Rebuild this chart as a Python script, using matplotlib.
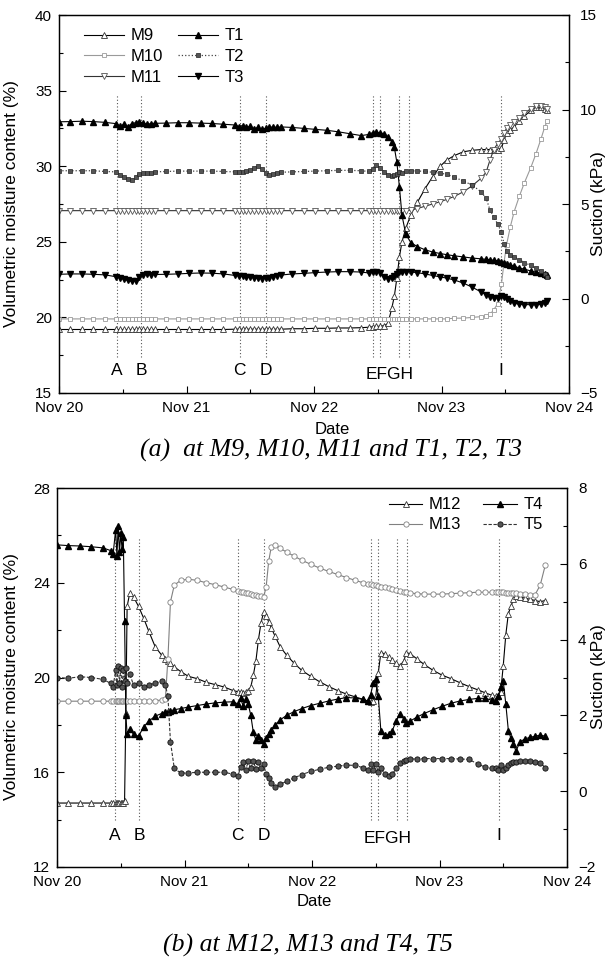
import matplotlib
matplotlib.use('Agg')
import matplotlib.pyplot as plt
from matplotlib.ticker import MultipleLocator

plt.rcParams['font.family'] = ['Liberation Sans', 'DejaVu Sans']
plt.rcParams['font.size'] = 11

# time in days after Nov 20 00:00
day_ticks = [0, 1, 2, 3, 4]
day_labels = ['Nov 20', 'Nov 21', 'Nov 22', 'Nov 23', 'Nov 24']

# event lines A..I
events = ['A', 'B', 'C', 'D', 'E', 'F', 'G', 'H', 'I']
event_days = [0.455, 0.645, 1.418, 1.623, 2.46, 2.515, 2.668, 2.742, 3.465]

# ---------------- panel (a) ----------------
t_a = [0.00, 0.09, 0.18, 0.27, 0.36, 0.45, 0.48, 0.51, 0.54, 0.57,
       0.60, 0.63, 0.66, 0.69, 0.72, 0.75, 0.84, 0.93, 1.02, 1.11,
       1.20, 1.29, 1.38, 1.41, 1.44, 1.47, 1.50, 1.53, 1.56, 1.59,
       1.62, 1.65, 1.68, 1.71, 1.74, 1.83, 1.92, 2.01, 2.10, 2.19,
       2.28, 2.37, 2.43, 2.46, 2.49, 2.52, 2.55, 2.58, 2.61, 2.63,
       2.65, 2.67, 2.69, 2.72, 2.76, 2.81, 2.87, 2.93, 2.99, 3.04,
       3.10, 3.17, 3.24, 3.31, 3.35, 3.38, 3.41, 3.44, 3.47, 3.49,
       3.51, 3.54, 3.57, 3.61, 3.65, 3.70, 3.74, 3.78, 3.81, 3.83]

m9 = ([19.2] * 20 +
      [19.2, 19.2, 19.22, 19.22, 19.22, 19.22, 19.22, 19.22, 19.22, 19.22] +
      [19.22, 19.22, 19.22, 19.22, 19.22, 19.25, 19.25, 19.28, 19.28, 19.3] +
      [19.3, 19.32, 19.35, 19.38, 19.4, 19.42, 19.45, 19.6, 20.6, 21.4] +
      [22.6, 24.0, 25.0, 25.9, 26.8, 27.6, 28.5, 29.3, 30.0, 30.4] +
      [30.7, 30.95, 31.05, 31.1, 31.1, 31.1, 31.1, 31.1, 31.2, 31.7] +
      [32.2, 32.4, 32.6, 33.0, 33.3, 33.7, 33.9, 33.9, 33.8, 33.7])

m10 = ([19.9] * 60 +
       [19.95, 19.95, 20.0, 20.05, 20.1, 20.2, 20.5, 20.9, 22.2, 23.6] +
       [24.8, 26.0, 27.0, 28.0, 28.9, 29.9, 30.8, 31.8, 32.6, 33.0])

m11 = ([27.06] * 50 +
       [27.06, 27.06, 27.06, 27.06, 27.1, 27.2, 27.35, 27.5, 27.65, 27.8] +
       [28.0, 28.3, 28.7, 29.2, 29.6, 30.4, 31.1, 31.5, 31.8, 32.2] +
       [32.5, 32.7, 32.9, 33.2, 33.5, 33.8, 34.0, 34.0, 33.9, 33.8])

t1 = ([9.35, 9.36, 9.38, 9.36, 9.32, 9.25, 9.12, 9.22, 9.1, 9.25] +
      [9.3, 9.35, 9.28, 9.22, 9.25, 9.27, 9.28, 9.3, 9.3, 9.28] +
      [9.26, 9.22, 9.18, 9.1, 9.15, 9.05, 9.12, 8.98, 9.05, 8.95] +
      [9.0, 9.05, 9.08, 9.05, 9.08, 9.05, 9.0, 8.95, 8.9, 8.82] +
      [8.72, 8.62, 8.68, 8.78, 8.8, 8.76, 8.72, 8.55, 8.3, 8.0] +
      [7.2, 5.9, 4.4, 3.4, 2.95, 2.75, 2.58, 2.46, 2.38, 2.32] +
      [2.26, 2.2, 2.14, 2.1, 2.07, 2.05, 2.02, 2.0, 1.95, 1.9] +
      [1.85, 1.78, 1.7, 1.62, 1.55, 1.46, 1.4, 1.33, 1.27, 1.22])

t2 = ([6.76, 6.76, 6.76, 6.76, 6.72, 6.7, 6.55, 6.42, 6.3, 6.25] +
      [6.45, 6.6, 6.62, 6.65, 6.65, 6.7, 6.72, 6.74, 6.74, 6.74] +
      [6.74, 6.72, 6.7, 6.68, 6.7, 6.75, 6.8, 6.9, 7.0, 6.85] +
      [6.65, 6.55, 6.6, 6.65, 6.68, 6.7, 6.72, 6.74, 6.76, 6.78] +
      [6.78, 6.76, 6.72, 6.85, 7.05, 6.9, 6.7, 6.55, 6.5, 6.55] +
      [6.6, 6.7, 6.65, 6.72, 6.75, 6.75, 6.72, 6.68, 6.62, 6.58] +
      [6.42, 6.22, 6.0, 5.65, 5.3, 4.7, 4.3, 3.95, 3.5, 2.9] +
      [2.5, 2.3, 2.2, 2.05, 1.9, 1.75, 1.6, 1.45, 1.3, 1.15])

t3 = ([1.28, 1.3, 1.3, 1.28, 1.25, 1.15, 1.08, 1.02, 0.96, 0.9] +
      [0.95, 1.15, 1.25, 1.27, 1.25, 1.27, 1.28, 1.3, 1.33, 1.35] +
      [1.34, 1.3, 1.22, 1.2, 1.18, 1.15, 1.12, 1.1, 1.07, 1.05] +
      [1.07, 1.1, 1.15, 1.2, 1.24, 1.3, 1.33, 1.37, 1.4, 1.42] +
      [1.42, 1.4, 1.35, 1.38, 1.42, 1.35, 1.15, 1.05, 1.08, 1.2] +
      [1.3, 1.38, 1.42, 1.42, 1.4, 1.37, 1.3, 1.22, 1.14, 1.08] +
      [0.98, 0.82, 0.6, 0.35, 0.2, 0.08, 0.03, 0.05, 0.12, 0.1] +
      [0.0, -0.15, -0.25, -0.3, -0.32, -0.33, -0.33, -0.3, -0.25, -0.15])

# ---------------- panel (b) ----------------
t_b = [0.00, 0.09, 0.18, 0.27, 0.36, 0.42, 0.44, 0.46, 0.47, 0.48,
       0.49, 0.50, 0.51, 0.52, 0.53, 0.54, 0.55, 0.57, 0.60, 0.64,
       0.68, 0.72, 0.77, 0.82, 0.85, 0.87, 0.89, 0.92, 0.97, 1.03,
       1.10, 1.17, 1.24, 1.31, 1.38, 1.42, 1.44, 1.46, 1.48, 1.50,
       1.52, 1.54, 1.56, 1.58, 1.60, 1.62, 1.64, 1.66, 1.68, 1.71,
       1.75, 1.80, 1.86, 1.92, 1.99, 2.06, 2.13, 2.20, 2.27, 2.34,
       2.40, 2.44, 2.46, 2.48, 2.50, 2.52, 2.54, 2.57, 2.60, 2.63,
       2.66, 2.69, 2.72, 2.74, 2.77, 2.82, 2.88, 2.95, 3.02, 3.09,
       3.16, 3.23, 3.30, 3.36, 3.41, 3.44, 3.46, 3.48, 3.50, 3.52,
       3.54, 3.56, 3.58, 3.60, 3.63, 3.67, 3.71, 3.75, 3.79, 3.83]

m12 = ([14.7] * 10 +
       [14.7, 14.7, 14.7, 14.72, 14.8, 18.5, 23.0, 23.55, 23.4, 23.0] +
       [22.5, 21.95, 21.3, 20.95, 20.8, 20.7, 20.6, 20.45, 20.25, 20.05] +
       [19.95, 19.8, 19.7, 19.6, 19.45, 19.4, 19.38, 19.35, 19.38, 19.45] +
       [19.6, 20.1, 20.7, 21.6, 22.3, 22.75, 22.6, 22.35, 22.1, 21.75] +
       [21.3, 20.95, 20.6, 20.3, 20.05, 19.82, 19.62, 19.45, 19.3, 19.18] +
       [19.08, 19.0, 18.98, 19.0, 19.2, 20.2, 21.05, 21.0, 20.85, 20.72] +
       [20.6, 20.5, 20.7, 21.05, 21.0, 20.8, 20.55, 20.3, 20.1, 19.95] +
       [19.78, 19.62, 19.48, 19.35, 19.25, 19.2, 19.22, 19.4, 20.5, 21.8] +
       [22.7, 23.0, 23.3, 23.45, 23.4, 23.35, 23.3, 23.25, 23.2, 23.25])

m13 = ([19.0] * 20 +
       [19.0, 19.0, 19.02, 19.05, 19.1, 20.8, 23.2, 23.9, 24.1, 24.15] +
       [24.1, 24.0, 23.92, 23.82, 23.72, 23.66, 23.62, 23.6, 23.57, 23.55] +
       [23.52, 23.5, 23.47, 23.45, 23.42, 23.4, 23.8, 24.9, 25.5, 25.6] +
       [25.45, 25.3, 25.12, 24.95, 24.78, 24.62, 24.48, 24.35, 24.22, 24.1] +
       [24.0, 23.95, 23.93, 23.92, 23.9, 23.87, 23.84, 23.8, 23.76, 23.72] +
       [23.68, 23.65, 23.62, 23.6, 23.57, 23.54, 23.52, 23.52, 23.52, 23.54] +
       [23.56, 23.58, 23.6, 23.6, 23.6, 23.6, 23.6, 23.6, 23.6, 23.58] +
       [23.56, 23.55, 23.55, 23.55, 23.54, 23.52, 23.5, 23.5, 23.9, 24.75])

t4 = ([6.5, 6.48, 6.47, 6.45, 6.42, 6.35, 6.25, 6.9, 6.2, 7.0] +
      [6.3, 6.8, 6.4, 6.7, 4.5, 2.0, 1.5, 1.65, 1.5, 1.45] +
      [1.7, 1.85, 1.98, 2.05, 2.08, 2.1, 2.12, 2.15, 2.18, 2.22] +
      [2.26, 2.3, 2.33, 2.35, 2.36, 2.3, 2.45, 2.25, 2.42, 2.3] +
      [2.0, 1.55, 1.35, 1.45, 1.35, 1.25, 1.4, 1.52, 1.62, 1.75] +
      [1.88, 2.0, 2.1, 2.18, 2.26, 2.32, 2.38, 2.43, 2.47, 2.46] +
      [2.42, 2.38, 2.55, 2.85, 2.95, 2.5, 1.6, 1.48, 1.5, 1.6] +
      [1.85, 2.05, 1.9, 1.8, 1.85, 1.95, 2.05, 2.15, 2.24, 2.32] +
      [2.38, 2.42, 2.45, 2.45, 2.4, 2.38, 2.5, 2.75, 2.9, 2.3] +
      [1.6, 1.4, 1.25, 1.05, 1.3, 1.38, 1.42, 1.45, 1.48, 1.45])

t5 = ([3.0, 2.98, 3.02, 3.0, 2.95, 2.85, 2.75, 3.2, 2.8, 3.3] +
      [2.85, 3.25, 2.75, 3.2, 2.9, 3.25, 2.85, 3.1, 2.8, 2.85] +
      [2.75, 2.8, 2.85, 2.9, 2.8, 2.5, 1.3, 0.6, 0.48, 0.48] +
      [0.5, 0.5, 0.5, 0.5, 0.45, 0.4, 0.65, 0.78, 0.55, 0.8] +
      [0.6, 0.8, 0.58, 0.78, 0.6, 0.72, 0.45, 0.35, 0.22, 0.12] +
      [0.18, 0.26, 0.35, 0.44, 0.52, 0.58, 0.63, 0.66, 0.69, 0.68] +
      [0.62, 0.55, 0.72, 0.55, 0.72, 0.5, 0.6, 0.46, 0.4, 0.45] +
      [0.6, 0.74, 0.8, 0.82, 0.84, 0.86, 0.86, 0.86, 0.86, 0.86] +
      [0.85, 0.84, 0.72, 0.63, 0.6, 0.6, 0.55, 0.7, 0.55, 0.62] +
      [0.7, 0.74, 0.76, 0.78, 0.8, 0.8, 0.8, 0.78, 0.75, 0.62])


def style_axes(ax, ax2, ylim, y2lim, ymaj, y2maj):
    ax.set_xlim(0, 4)
    ax.set_ylim(*ylim)
    ax2.set_ylim(*y2lim)
    ax.set_xticks(day_ticks)
    ax.set_xticklabels(day_labels)
    ax.xaxis.set_minor_locator(MultipleLocator(0.5))
    ax.yaxis.set_major_locator(MultipleLocator(ymaj))
    ax.yaxis.set_minor_locator(MultipleLocator(ymaj / 2))
    ax2.yaxis.set_major_locator(MultipleLocator(y2maj))
    ax2.yaxis.set_minor_locator(MultipleLocator(y2maj / 2))
    ax.tick_params(axis='x', which='both', direction='in', top=False, pad=6)
    ax.tick_params(axis='y', which='both', direction='in', right=False, pad=5)
    ax2.tick_params(axis='y', which='both', direction='in', pad=8)
    for a in (ax, ax2):
        a.tick_params(which='major', length=5, width=0.8)
        a.tick_params(which='minor', length=3, width=0.8)
        for s in a.spines.values():
            s.set_linewidth(0.9)


def event_lines(ax, y0, y1, ylab, ylab_efgh):
    ax.vlines(event_days, y0, y1, colors='#555555', linestyles=(0, (1, 2)), linewidth=0.8)
    for name, d in zip(events, event_days):
        if name in 'EFGH':
            continue
        ax.text(d, ylab, name, ha='center', va='center', fontsize=12.5)
    ax.text(sum(event_days[4:8]) / 4, ylab_efgh, 'EFGH', ha='center', va='center', fontsize=12.5)


fig = plt.figure(figsize=(6.06, 9.59), dpi=100)

# panel (a)
ax = fig.add_axes([59 / 606, 1 - 393 / 959, 510 / 606, 378 / 959])
ax2 = ax.twinx()
style_axes(ax, ax2, (15, 40), (-5, 15), 5, 5)
event_lines(ax, 17.4, 34.7, 16.5, 16.25)

ms = 4.5
h = []
h += ax.plot(t_a, m9, '-', color='k', lw=0.8, marker='^', ms=ms, mfc='white', mec='#333333', mew=0.6, label='M9')
h += ax.plot(t_a, m10, '-', color='#9a9a9a', lw=0.8, marker='s', ms=3.5, mfc='white', mec='#9a9a9a', mew=0.6, label='M10')
h += ax.plot(t_a, m11, '-', color='#333333', lw=0.8, marker='v', ms=ms, mfc='white', mec='#555555', mew=0.6, label='M11')
h += ax2.plot(t_a, t1, '-', color='k', lw=0.8, marker='^', ms=ms, mfc='k', mec='k', label='T1')
h += ax2.plot(t_a, t2, ':', color='#444444', lw=0.9, marker='s', ms=3.2, mfc='#555555', mec='#222222', mew=0.5, label='T2')
h += ax2.plot(t_a, t3, '-', color='k', lw=0.8, marker='v', ms=ms, mfc='k', mec='k', label='T3')

ax2.legend(h, [l.get_label() for l in h], ncol=2, loc='upper left', frameon=False,
           bbox_to_anchor=(76 / 606, 1 - 20 / 959), bbox_transform=fig.transFigure,
           numpoints=1, handlelength=2.4, handletextpad=0.4, columnspacing=0.9,
           labelspacing=0.35, borderpad=0, fontsize=12)

fig.text(332 / 606, 1 - 430 / 959, 'Date', ha='center', va='center', fontsize=12)
fig.text(12 / 606, 1 - 204 / 959, 'Volumetric moisture content (%)', rotation=90,
         ha='center', va='center', fontsize=12.5)
fig.text(598 / 606, 1 - 204 / 959, 'Suction (kPa)', rotation=90,
         ha='center', va='center', fontsize=12.5)
fig.text(331 / 606, 1 - 450 / 959, '(a)  at M9, M10, M11 and T1, T2, T3',
         ha='center', va='center', fontsize=18.5, style='italic',
         family=['Liberation Serif', 'DejaVu Serif'])

# panel (b)
bx = fig.add_axes([57 / 606, 1 - 867 / 959, 510 / 606, 379 / 959])
bx2 = bx.twinx()
style_axes(bx, bx2, (12, 28), (-2, 8), 4, 2)
event_lines(bx, 13.98, 25.9, 13.35, 13.2)

g = []
g += bx.plot(t_b, m12, '-', color='k', lw=0.8, marker='^', ms=ms, mfc='white', mec='#333333', mew=0.6, label='M12')
g += bx.plot(t_b, m13, '-', color='#808080', lw=0.8, marker='o', ms=3.8, mfc='white', mec='#808080', mew=0.6, label='M13')
g += bx2.plot(t_b, t4, '-', color='k', lw=0.8, marker='^', ms=ms, mfc='k', mec='k', label='T4')
g += bx2.plot(t_b, t5, '--', color='#333333', lw=0.8, dashes=(3, 1.5), marker='o', ms=3.8, mfc='#555555', mec='#111111', mew=0.6, label='T5')

bx2.legend(g, [l.get_label() for l in g], ncol=2, loc='upper right', frameon=False,
           bbox_to_anchor=(551 / 606, 1 - 489 / 959), bbox_transform=fig.transFigure,
           numpoints=1, handlelength=2.0, handletextpad=0.4, columnspacing=1.3,
           labelspacing=0.3, borderpad=0, fontsize=12)

fig.text(314 / 606, 1 - 902 / 959, 'Date', ha='center', va='center', fontsize=12)
fig.text(12 / 606, 1 - 677 / 959, 'Volumetric moisture content (%)', rotation=90,
         ha='center', va='center', fontsize=12.5)
fig.text(599 / 606, 1 - 677 / 959, 'Suction (kPa)', rotation=90,
         ha='center', va='center', fontsize=12.5)
fig.text(308 / 606, 1 - 945 / 959, '(b) at M12, M13 and T4, T5',
         ha='center', va='center', fontsize=18.5, style='italic',
         family=['Liberation Serif', 'DejaVu Serif'])

fig.savefig('out.png', dpi=100)
